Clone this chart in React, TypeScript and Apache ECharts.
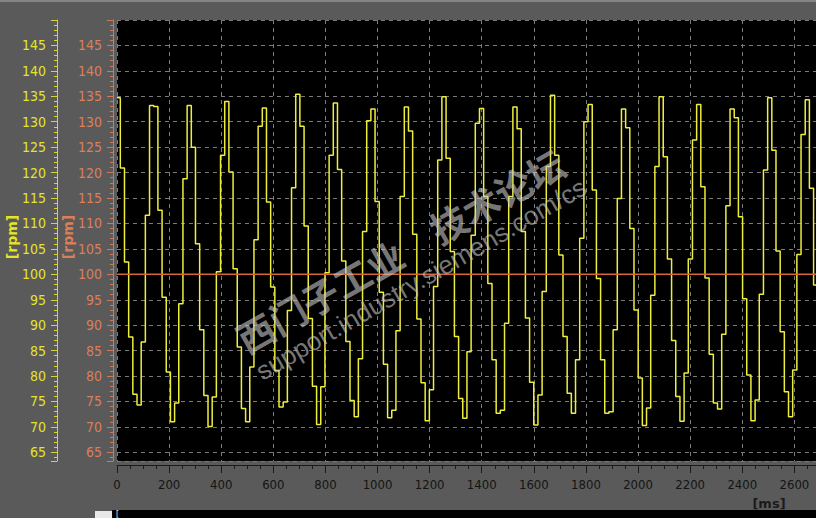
import { useEffect, useRef } from "react";
import * as echarts from "echarts";

// ---- axis ranges / ticks ----
const X_MIN_MS = 0;
const X_MAX_MS = 2683;
const X_TICK_MS = 200;
const Y_MIN_RPM = 63.3;
const Y_MAX_RPM = 150;

// ---- sampled speed trace: one value per 16 ms sample (step hold) ----
const FIRST_STEP_MS = 12.7;
const SAMPLE_MS = 16.03;
const SPEED_RPM = [
  134.7, 120.9, 102.4, 87.7, 76.4, 74.3, 86.7, 111.6, 133.2, 133.0,
  112.6, 95.5, 80.8, 71.0, 74.7, 94.2, 118.8, 133.2, 125.0, 106.0,
  89.1, 76.2, 70.1, 75.9, 100.5, 123.4, 134.0, 120.1, 101.1, 85.7,
  73.6, 71.0, 81.8, 106.8, 129.1, 132.7, 114.2, 97.5, 81.1, 73.9,
  74.9, 92.9, 117.0, 135.4, 129.1, 109.5, 91.3, 78.0, 70.5, 77.9,
  100.3, 123.4, 133.7, 120.6, 102.6, 86.8, 75.2, 72.0, 83.4, 108.4,
  130.2, 132.5, 114.3, 96.5, 82.3, 71.8, 73.3, 88.9, 115.3, 132.9,
  128.2, 107.9, 91.2, 78.7, 71.2, 77.3, 97.6, 122.5, 134.9, 122.8,
  104.5, 87.8, 75.6, 71.7, 84.8, 107.7, 129.7, 132.6, 115.3, 98.2,
  83.2, 72.7, 73.3, 90.4, 115.3, 132.9, 128.6, 108.4, 91.4, 78.8,
  70.4, 76.3, 96.6, 121.2, 135.2, 123.4, 103.8, 87.8, 76.6, 72.7,
  83.2, 107.1, 130.0, 133.4, 116.6, 99.2, 83.2, 72.7, 73.0, 89.1,
  114.9, 132.5, 128.8, 109.0, 93.0, 79.6, 70.3, 73.7, 95.9, 121.2,
  134.9, 123.1, 103.0, 87.0, 76.0, 71.1, 80.6, 103.0, 126.4, 133.4,
  117.2, 99.3, 84.3, 74.7, 73.5, 88.2, 113.5, 132.5, 130.8, 111.3,
  95.2, 80.2, 71.2, 75.3, 96.1, 120.5, 134.7, 124.4, 104.6, 88.7,
  76.9, 72.0, 81.2, 103.9, 127.5, 134.3, 116.9, 97.9,
];
const SETPOINT_RPM = 100;

// ---- texts ----
const Y_UNIT = "[rpm]";
const X_UNIT = "[ms]";
const WATERMARK_CN = "西门子工业　技术论坛";
const WATERMARK_URL = "support.industry.siemens.com/cs";

const FONT =
  "'DejaVu Sans Condensed', 'Liberation Sans Narrow', 'Liberation Sans', sans-serif";
const UNIT_FONT = "'DejaVu Sans', 'Liberation Sans', sans-serif";

export default function App() {
  const ref = useRef<HTMLDivElement>(null);

  useEffect(() => {
    if (!ref.current) return;
    const chart = echarts.init(ref.current, undefined, { renderer: "svg" });

    const speedData: number[][] = SPEED_RPM.map((v, i) => [
      i === 0 ? X_MIN_MS : FIRST_STEP_MS + (i - 1) * SAMPLE_MS,
      v,
    ]);
    speedData.push([X_MAX_MS, SPEED_RPM[SPEED_RPM.length - 1]]);

    const yAxisBase = (color: string, labelColor: string, offset: number, split: boolean) => ({
      type: "value",
      min: Y_MIN_RPM,
      max: Y_MAX_RPM,
      splitNumber: 17,
      position: "left",
      offset,
      axisLine: { show: true, onZero: false, lineStyle: { color, width: 1 } },
      axisTick: { show: true, length: 6, lineStyle: { color } },
      minorTick: { show: true, splitNumber: 5, length: 3, lineStyle: { color } },
      axisLabel: {
        color: labelColor,
        fontSize: 14,
        fontFamily: FONT,
        margin: 11,
        showMinLabel: false,
        showMaxLabel: false,
        formatter: (v: number) => String(v),
      },
      splitLine: {
        show: split,
        lineStyle: { color: "#7a7a7a", type: [4, 4], width: 1 },
      },
    });

    chart.setOption({
      animation: false,
      backgroundColor: "#5a5a5a",
      grid: {
        left: 117,
        right: 0,
        top: 20,
        bottom: 57,
        show: true,
        backgroundColor: "#000000",
        borderWidth: 0,
      },
      xAxis: {
        type: "value",
        min: X_MIN_MS,
        max: X_MAX_MS,
        interval: X_TICK_MS,
        position: "bottom",
        offset: 4,
        axisLine: { show: true, onZero: false, lineStyle: { color: "#1a1a1a" } },
        axisTick: { show: true, length: 8, lineStyle: { color: "#1a1a1a" } },
        minorTick: { show: true, splitNumber: 4, length: 4, lineStyle: { color: "#1a1a1a" } },
        axisLabel: {
          color: "#141414",
          fontSize: 13,
          fontFamily: FONT,
          margin: 13,
          showMaxLabel: false,
          formatter: (v: number) => String(v),
        },
        splitLine: {
          show: true,
          lineStyle: { color: "#7a7a7a", type: [4, 4], width: 1 },
        },
      },
      yAxis: [
        yAxisBase("#cf7a52", "#d9805a", 4, true),
        yAxisBase("#d6d62a", "#e4e428", 60, false),
      ],
      series: [
        {
          type: "line",
          yAxisIndex: 1,
          data: speedData,
          step: "end",
          symbol: "none",
          lineStyle: { color: "#eeee3c", width: 1.5 },
          z: 2,
        },
        {
          type: "line",
          yAxisIndex: 0,
          data: [
            [X_MIN_MS, SETPOINT_RPM],
            [X_MAX_MS, SETPOINT_RPM],
          ],
          symbol: "none",
          lineStyle: { color: "#d8643a", width: 1.5 },
          z: 3,
        },
      ],
      graphic: [
        { type: "rect", shape: { x: 0, y: 0, width: 816, height: 2 }, style: { fill: "#858585" }, z: 1 },
        {
          type: "text",
          x: 12,
          y: 237,
          rotation: Math.PI / 2,
          style: {
            text: Y_UNIT,
            fill: "#e4e428",
            font: "bold 14px " + UNIT_FONT,
            align: "center",
            verticalAlign: "middle",
          },
        },
        {
          type: "text",
          x: 68,
          y: 237,
          rotation: Math.PI / 2,
          style: {
            text: Y_UNIT,
            fill: "#d9805a",
            font: "bold 14px " + UNIT_FONT,
            align: "center",
            verticalAlign: "middle",
          },
        },
        {
          type: "text",
          x: 769,
          y: 503,
          style: {
            text: X_UNIT,
            fill: "#1a1a1a",
            font: "bold 13px " + UNIT_FONT,
            align: "center",
            verticalAlign: "middle",
          },
        },
        { type: "rect", shape: { x: 112, y: 510, width: 704, height: 8 }, style: { fill: "#000000" } },
        { type: "rect", shape: { x: 95, y: 511, width: 17, height: 7 }, style: { fill: "#e8e8e8" } },
        {
          type: "text",
          x: 116,
          y: 510,
          style: {
            text: "[",
            fill: "#ffffff",
            font: "8px " + FONT,
            lineHeight: 8,
            align: "left",
            verticalAlign: "top",
          },
        },
        {
          type: "text",
          x: 400,
          y: 250,
          rotation: (29.5 * Math.PI) / 180,
          z: 100,
          style: {
            text: WATERMARK_CN,
            fill: "rgba(200,200,200,0.6)",
            font: "bold 37px 'Noto Sans CJK SC', sans-serif",
            align: "center",
            verticalAlign: "middle",
          },
        },
        {
          type: "text",
          x: 421,
          y: 279,
          rotation: (30 * Math.PI) / 180,
          z: 100,
          style: {
            text: WATERMARK_URL,
            fill: "rgba(200,200,200,0.6)",
            font: "26px 'Liberation Sans', sans-serif",
            align: "center",
            verticalAlign: "middle",
          },
        },
      ],
    });

    return () => chart.dispose();
  }, []);

  return (
    <div
      ref={ref}
      style={{ position: "fixed", left: 0, top: 0, width: 816, height: 518 }}
    />
  );
}
